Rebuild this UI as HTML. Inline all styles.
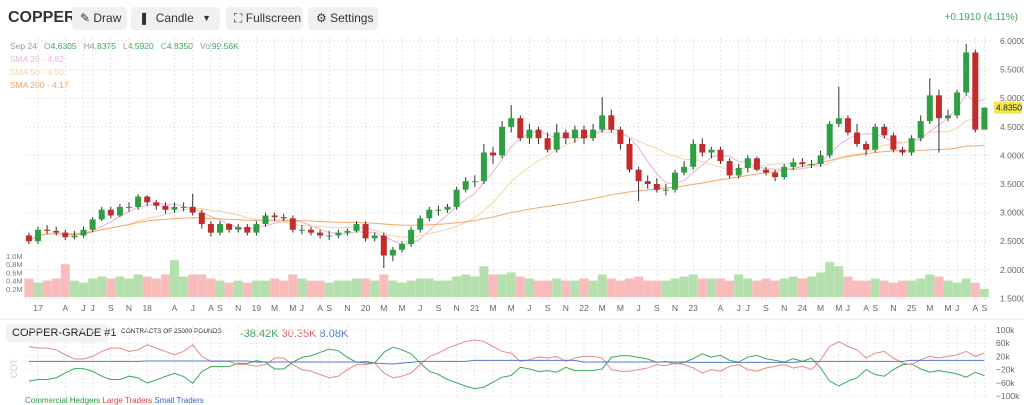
<!DOCTYPE html>
<html><head><meta charset="utf-8"><style>
body{margin:0;width:1024px;height:403px;overflow:hidden;background:#fff;font-family:"Liberation Sans",sans-serif;position:relative}
.btn{position:absolute;top:7px;height:23px;background:#eef0f2;border-radius:4px;font-size:12px;color:#333;line-height:23px;padding-left:8px;box-sizing:border-box;white-space:nowrap;overflow:hidden}
.t{position:absolute;white-space:nowrap}
</style></head><body>
<div class="t" style="left:8px;top:9px;font-size:16px;font-weight:bold;color:#333">COPPER</div>
<div class="btn" style="left:72px;width:55px">✎ Draw</div>
<div class="btn" style="left:131px;width:89px">❚ &nbsp;Candle <span style="position:absolute;right:9px;font-size:9px">▼</span></div>
<div class="btn" style="left:226px;width:77px">⛶ Fullscreen</div>
<div class="btn" style="left:308px;width:70px">⚙ Settings</div>
<div class="t" style="right:6px;top:12px;font-size:10px;color:#3aa55c">+0.1910 (4.11%)</div>
<div class="t" style="left:10px;top:41px;font-size:8.5px;color:#999">Sep 24 &nbsp; O<span style="color:#3aa55c">4.6305</span> &nbsp; H<span style="color:#3aa55c">4.8375</span> &nbsp; L<span style="color:#3aa55c">4.5920</span> &nbsp; C<span style="color:#3aa55c">4.8350</span> &nbsp; Vol<span style="color:#3aa55c">99.56K</span></div>
<div class="t" style="left:10px;top:54px;font-size:8.5px;color:#eab4e0">SMA 20 - 4.82</div>
<div class="t" style="left:10px;top:67px;font-size:8.5px;color:#f3d3a0">SMA 50 - 4.50</div>
<div class="t" style="left:10px;top:80px;font-size:8.5px;color:#f0a060">SMA 200 - 4.17</div>
<div class="t" style="left:6px;top:324px;width:102px;height:18px;background:#f2f2f2;border-radius:3px;font-size:11px;color:#222;line-height:18px;padding-left:6px;box-sizing:border-box">COPPER-GRADE #1</div>
<div class="t" style="left:121px;top:328px;font-size:6.5px;color:#222">CONTRACTS OF 25000 POUNDS</div>
<div class="t" style="left:240px;top:328px;font-size:11px"><span style="color:#3aa55c">-38.42K</span> <span style="color:#e06666">30.35K</span> <span style="color:#5577cc">8.08K</span></div>
<div class="t" style="left:25px;top:396px;font-size:8px"><span style="color:#2a9d3a">Commercial Hedgers</span> <span style="color:#e04040">Large Traders</span> <span style="color:#3366cc">Small Traders</span></div>
<svg id="chart" width="1024" height="403" style="position:absolute;left:0;top:0" xmlns="http://www.w3.org/2000/svg"></svg>
<script>
const opens=[2.60,
2.50,2.70,2.68,2.65,2.57,2.60,2.70,2.88,3.05,2.95,3.10,3.10,
3.28,3.18,3.12,3.05,3.10,3.10,3.00,2.80,2.65,2.80,2.70,2.75,
2.65,2.80,2.95,2.92,2.90,2.70,2.70,2.65,2.60,2.60,2.65,2.68,
2.80,2.55,2.60,2.25,2.35,2.45,2.70,2.90,3.05,3.05,3.10,3.40,
3.55,3.55,4.05,4.00,4.50,4.65,4.30,4.45,4.30,4.10,4.40,4.30,
4.45,4.30,4.45,4.70,4.45,4.20,3.75,3.55,3.50,3.40,3.40,3.70,
3.80,4.20,4.05,4.10,3.90,3.65,3.78,3.95,3.75,3.70,3.62,3.80,
3.88,3.85,3.85,4.00,4.55,4.65,4.40,4.20,4.10,4.50,4.35,4.10,
4.05,4.30,4.60,5.05,4.65,4.70,5.10,5.80,4.45];
const closes=[2.50,
2.70,2.68,2.65,2.57,2.60,2.70,2.88,3.05,2.95,3.10,3.10,3.28,
3.18,3.12,3.05,3.10,3.10,3.00,2.80,2.65,2.80,2.70,2.75,2.65,
2.80,2.95,2.92,2.90,2.70,2.70,2.65,2.60,2.60,2.65,2.68,2.80,
2.55,2.60,2.25,2.35,2.45,2.70,2.90,3.05,3.05,3.10,3.40,3.55,
3.55,4.05,4.00,4.50,4.65,4.30,4.45,4.30,4.10,4.40,4.30,4.45,
4.30,4.45,4.70,4.45,4.20,3.75,3.55,3.50,3.40,3.40,3.70,3.80,
4.20,4.05,4.10,3.90,3.65,3.78,3.95,3.75,3.70,3.62,3.80,3.88,
3.85,3.85,4.00,4.55,4.65,4.40,4.20,4.10,4.50,4.35,4.10,4.05,
4.30,4.60,5.05,4.65,4.70,5.10,5.80,4.45,4.835];
const highs=[2.65,
2.75,2.78,2.75,2.70,2.68,2.75,2.92,3.10,3.10,3.15,3.18,3.32,
3.30,3.22,3.18,3.18,3.18,3.33,3.05,2.85,2.85,2.82,2.80,2.80,
2.85,3.00,3.00,2.98,2.95,2.78,2.75,2.70,2.68,2.70,2.72,2.85,
2.85,2.65,2.65,2.40,2.50,2.75,2.95,3.10,3.12,3.15,3.45,3.62,
3.65,4.20,4.15,4.60,4.88,4.70,4.55,4.50,4.40,4.55,4.45,4.52,
4.52,4.55,5.02,4.80,4.50,4.30,3.80,3.65,3.60,3.50,3.75,3.90,
4.28,4.30,4.15,4.15,3.95,3.85,4.00,3.98,3.80,3.75,3.85,3.95,
3.95,3.92,4.08,4.60,5.20,4.70,4.55,4.25,4.55,4.55,4.40,4.15,
4.35,4.70,5.35,5.15,4.80,5.15,5.95,5.85,4.84];
const lows=[2.45,
2.45,2.62,2.60,2.52,2.53,2.56,2.66,2.85,2.90,2.92,3.02,3.05,
3.12,3.05,2.98,3.00,3.02,2.95,2.72,2.58,2.60,2.65,2.65,2.60,
2.60,2.75,2.85,2.85,2.65,2.62,2.60,2.55,2.52,2.55,2.60,2.65,
2.50,2.50,2.03,2.15,2.30,2.40,2.65,2.85,2.95,3.00,3.05,3.35,
3.45,3.50,3.85,3.95,4.40,4.25,4.20,4.20,4.05,4.05,4.20,4.22,
4.20,4.25,4.40,4.40,4.10,3.70,3.20,3.42,3.35,3.30,3.35,3.65,
3.75,3.98,3.95,3.85,3.60,3.60,3.70,3.72,3.65,3.55,3.58,3.75,
3.80,3.78,3.80,3.95,4.50,4.35,4.15,4.00,4.05,4.30,4.05,4.00,
4.00,4.25,4.55,4.05,4.60,4.65,5.05,4.40,4.59];
const volumes=[0.45,
0.35,0.40,0.45,0.80,0.40,0.35,0.45,0.50,0.45,0.50,0.45,0.55,
0.50,0.45,0.55,0.90,0.50,0.55,0.55,0.45,0.40,0.35,0.40,0.35,
0.40,0.40,0.45,0.40,0.55,0.45,0.40,0.40,0.35,0.40,0.40,0.45,
0.45,0.40,0.55,0.40,0.35,0.40,0.45,0.45,0.40,0.40,0.50,0.55,
0.50,0.75,0.55,0.55,0.60,0.50,0.45,0.40,0.40,0.45,0.40,0.40,
0.45,0.40,0.55,0.45,0.40,0.45,0.50,0.40,0.40,0.40,0.45,0.50,
0.55,0.45,0.45,0.45,0.40,0.55,0.45,0.40,0.45,0.40,0.45,0.50,
0.45,0.50,0.60,0.85,0.75,0.50,0.40,0.40,0.45,0.40,0.35,0.40,
0.40,0.45,0.55,0.50,0.40,0.35,0.45,0.35,0.20];
const largeTraders=[50,
45,45,40,25,12,12,20,35,45,45,35,40,
55,45,35,25,35,55,20,5,5,5,-5,-5,
-10,-5,15,15,-5,-20,-25,-35,-45,-40,-20,-5,
-5,0,-30,-45,-40,-30,-5,20,30,45,55,65,
70,65,50,35,30,5,10,18,15,20,5,15,
20,20,15,-20,-25,-25,-20,-15,-5,-8,0,-5,
-15,-30,-20,-25,-10,-5,-20,-25,-15,-10,-5,-15,
-10,-20,10,50,65,50,40,15,30,35,15,0,
-5,10,20,15,20,25,35,20,30.35];
const smallTraders=[5,
5,5,5,5,5,5,5,5,5,5,5,5,
6,6,6,6,6,6,6,6,6,6,6,6,
3,3,3,3,3,3,3,3,3,3,3,3,
0,0,-2,-3,0,2,5,5,5,5,5,5,
8,8,8,8,8,8,8,8,8,8,8,8,
3,3,3,3,3,3,3,3,3,3,3,3,
2,2,2,2,2,2,2,2,2,2,2,2,
5,5,5,5,5,5,5,5,5,5,5,5,
8,8,8,8,8,8,8,8,8.08];
const commercialHedgers=[-55,
-50,-50,-45,-30,-17,-17,-25,-40,-50,-50,-40,-45,
-61,-51,-41,-31,-41,-61,-26,-11,-11,-11,-1,-1,
7,2,-18,-18,2,17,22,32,42,37,17,2,
5,0,32,48,40,28,0,-25,-35,-50,-60,-70,
-78,-73,-58,-43,-38,-13,-18,-26,-23,-28,-13,-23,
-23,-23,-18,17,22,22,17,12,2,5,-3,2,
13,28,18,23,8,3,18,23,13,8,3,13,
5,15,-15,-55,-70,-55,-45,-20,-35,-40,-20,-5,
-3,-18,-28,-23,-28,-33,-43,-28,-38.42];
const xTickLabels=["17","A","J","J","S","N","18","A","J","A","S","N","19","M","M","J","A","S","N","20","M","M","J","S","N","21","M","M","J","S","N","22","M","M","J","S","N","23","A","J","J","S","N","24","M","M","J","A","S","N","25","M","M","J","A","S"];
const xTickMonths=[0,3,5,6,8,10,12,15,17,19,20,22,24,26,28,29,31,32,34,36,38,40,42,44,46,48,50,52,54,56,58,60,62,64,66,68,70,72,75,77,78,80,82,84,86,88,89,91,92,94,96,98,100,101,103,104];
const priceTicks=[6.0,5.5,5.0,4.5,4.0,3.5,3.0,2.5,2.0,1.5];
const volTicks=[1.0,0.8,0.6,0.4,0.2];
const cotTicks=[100,60,20,-20,-60,-100];
const cotTickLabels=["100k","60k","20k","−20k","−60k","−100k"];

const svg=document.getElementById('chart');
const NS='http://www.w3.org/2000/svg';
function mk(tag,attrs,parent){const e=document.createElementNS(NS,tag);for(const k in attrs)e.setAttribute(k,attrs[k]);(parent||svg).appendChild(e);return e;}
const X0=25,X1=990,START=-1;
const xm=m=>38+m*9.1;
const xi=i=>xm(i+START);
const yp=p=>41+(6-p)*57.2;
const yv=v=>297-v*41;
const yc=v=>363-v*0.33;

for(const m of xTickMonths){const g=mk('line',{x1:xm(m),x2:xm(m),y1:38,y2:300,stroke:'#e6e6e6','stroke-dasharray':'2,2'});


const g2=mk('line',{x1:xm(m),x2:xm(m),y1:326,y2:398,stroke:'#e6e6e6','stroke-dasharray':'2,2'});

}
for(const p of priceTicks){const g=mk('line',{x1:X0,x2:X1,y1:yp(p),y2:yp(p),stroke:'#e6e6e6','stroke-dasharray':'2,2'});


const t=mk('text',{x:1000,y:yp(p)+3,'font-size':'8.5',fill:'#666'});t.textContent=p.toFixed(4);

}
for(const c of cotTicks){const g=mk('line',{x1:X0,x2:X1,y1:yc(c),y2:yc(c),stroke:'#ececec','stroke-dasharray':'2,2'});

}
cotTicks.forEach((c,i)=>{const t=mk('text',{x:996,y:yc(c)+3,'font-size':'8.5',fill:'#666'});t.textContent=cotTickLabels[i];

});
for(const v of volTicks){const t=mk('text',{x:6,y:yv(v)+3,'font-size':'7.5',fill:'#777'});t.textContent=v.toFixed(1)+'M';

}
xTickLabels.forEach((l,i)=>{const t=mk('text',{x:xm(xTickMonths[i]),y:311,'font-size':'8.5',fill:'#666','text-anchor':'middle'});t.textContent=l;

});
const sep=mk('line',{x1:0,x2:1024,y1:319,y2:319,stroke:'#e8e8e8'});


const cotLbl=mk('text',{x:0,y:0,'font-size':'9',fill:'#ccc',transform:'translate(17,378) rotate(-90)'});cotLbl.textContent='COT';



volumes.forEach((v,i)=>{const up=closes[i]>=opens[i];const r=mk('rect',{x:xi(i)-4.5,y:yv(v),width:9,height:297-yv(v),fill:up?'#b5e0ad':'#f8bcbc'});

});

function sma(w){return closes.map((c,i)=>{const s=Math.max(0,i-w+1);let t=0;for(let j=s;j<=i;j++)t+=closes[j];return t/(i-s+1);});}
[[5,'#e8b0e0'],[12,'#f5d4a0'],[46,'#f2a868']].forEach(([w,col])=>{const a=sma(w);
const p=mk('polyline',{points:a.map((v,i)=>xi(i)+','+yp(v)).join(' '),fill:'none',stroke:col,'stroke-width':1});

});

closes.forEach((c,i)=>{const o=opens[i],up=c>=o,col=up?'#2ea043':'#c42b2b',x=xi(i);
const g=mk('g',{});


mk('line',{x1:x,x2:x,y1:yp(highs[i]),y2:yp(lows[i]),stroke:'#333','stroke-width':1},g);
mk('rect',{x:x-3,y:yp(Math.max(o,c)),width:6,height:Math.max(1,Math.abs(yp(o)-yp(c))),fill:col},g);});

const lp=closes[closes.length-1];
const tag=mk('rect',{x:994,y:yp(lp)-6,width:28,height:12,fill:'#f5e84a'});


const tt=mk('text',{x:996,y:yp(lp)+3,'font-size':'8.5',fill:'#222'});tt.textContent=lp.toFixed(4);



[[commercialHedgers,'#3aa860','commercial-hedgers-line'],[largeTraders,'#e88a8a','large-traders-line'],[smallTraders,'#5577cc','small-traders-line']].forEach(([arr,col,name])=>{
const p=mk('polyline',{points:arr.map((v,i)=>xi(i)+','+yc(v)).join(' '),fill:'none',stroke:col,'stroke-width':1});

});
</script>
</body></html>
